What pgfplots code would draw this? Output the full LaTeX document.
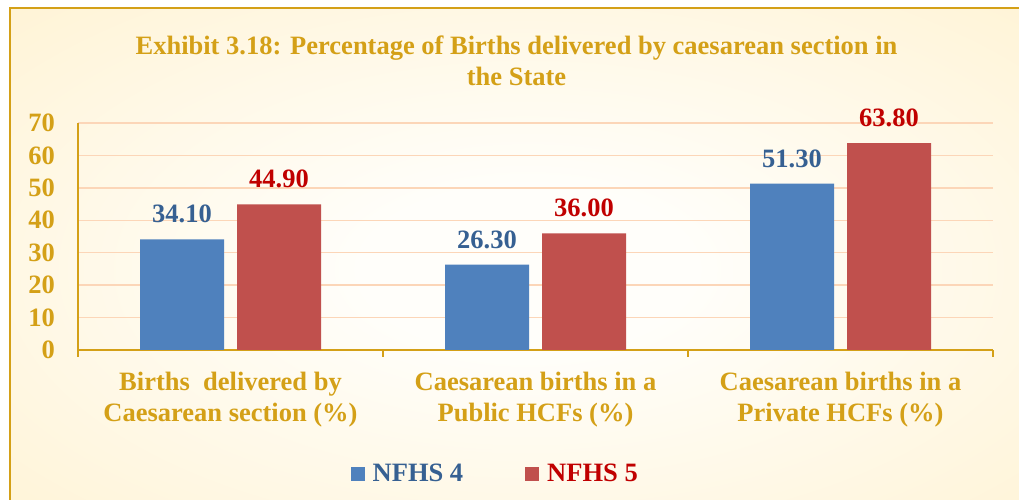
\documentclass[border=0pt]{standalone}
\usepackage{fontspec}
\setmainfont{Liberation Serif}
\usepackage{pgfplots}
\pgfplotsset{compat=1.18}
\definecolor{gold}{RGB}{212,160,23}
\definecolor{gridc}{RGB}{252,214,184}
\definecolor{nblue}{RGB}{79,129,189}
\definecolor{nred}{RGB}{192,80,77}
\definecolor{lblue}{RGB}{54,96,146}
\definecolor{lred}{RGB}{192,0,0}
\definecolor{cin}{RGB}{255,254,250}
\definecolor{cout}{RGB}{255,239,198}
\pgfdeclareradialshading{bg}{\pgfpoint{0bp}{0bp}}{color(0bp)=(cin); color(8bp)=(cin); color(48bp)=(cout); color(100bp)=(cout)}
\newcommand\lbl{\fontsize{26.5bp}{31bp}\selectfont\bfseries}

\begin{document}
\begin{tikzpicture}
\useasboundingbox (0,0) rectangle (1019bp,500bp);
\fill[white] (0,0) rectangle (1019bp,500bp);
\begin{scope}
  \clip (0,0) rectangle (1019bp,500bp);
  \shade[shading=bg] (10bp,-30bp) rectangle (1045bp,492bp);
  \draw[gold, line width=2.5bp] (10bp,-30bp) rectangle (1045bp,492bp);
\end{scope}
\node[gold, font=\lbl, align=center, anchor=north, inner sep=0pt] at (516.5bp,464bp)
  {Exhibit 3.18: Percentage of Births delivered by caesarean section in\\the State};
\begin{axis}[
    at={(78bp,150bp)}, anchor=south west,
    width=915bp, height=227bp, scale only axis,
    ybar=13bp, bar width=84bp,
    xmin=0.5, xmax=3.5, ymin=0, ymax=70,
    ytick={0,10,...,70},
    xtick={1,2,3},
    xticklabels={{Births\hspace{0.25em} delivered by\\Caesarean section (\%)},
                 {Caesarean births in a\\Public HCFs (\%)},
                 {Caesarean births in a\\Private HCFs (\%)}},
    minor xtick={0.5,1.5,2.5,3.5},
    major tick length=0pt, minor tick length=7bp,
    tick align=outside,
    major tick style={draw=none},
    minor x tick style={gold, line width=1.5bp},
    axis lines*=left,
    axis line style={gold, line width=2bp},
    ymajorgrids,
    major grid style={gridc, line width=1.5bp},
    /pgf/number format/assume math mode=true,
    xticklabel style={font=\lbl, text=gold, align=center, inner sep=0pt, anchor=north, yshift=-22bp},
    yticklabel style={font=\lbl, text=gold, anchor=east, inner sep=0pt, xshift=-23bp},
    nodes near coords={\pgfmathprintnumber[fixed,fixed zerofill,precision=2]{\pgfplotspointmeta}},
    every node near coord/.append style={font=\lbl, anchor=south, inner sep=0pt, yshift=16bp},
    legend columns=2,
    legend style={at={(0.456,-0.546)}, anchor=center, draw=none, fill=none, font=\lbl,
        /tikz/every even column/.append style={column sep=60bp}},
    legend image code/.code={\fill[#1,draw=none] (0bp,-7bp) rectangle (14bp,7bp);
        \path (20bp,0bp);},
]
\addplot[fill=nblue, draw=none, every node near coord/.append style={text=lblue}]
  coordinates {(1,34.10) (2,26.30) (3,51.30)};
\addlegendentry{\textcolor{lblue}{NFHS 4}}
\addplot[fill=nred, draw=none, every node near coord/.append style={text=lred}]
  coordinates {(1,44.90) (2,36.00) (3,63.80)};
\addlegendentry{\textcolor{lred}{NFHS 5}}
\end{axis}
\end{tikzpicture}
\end{document}
